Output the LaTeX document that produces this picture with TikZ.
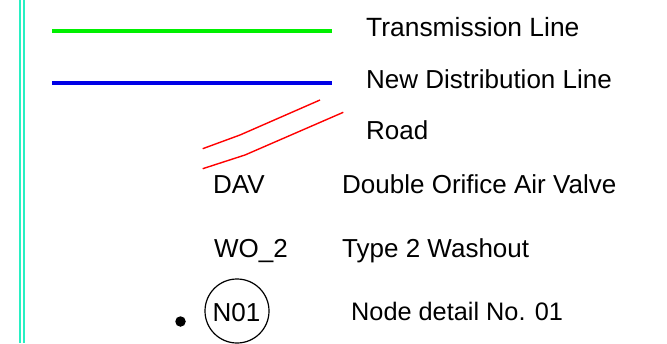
\documentclass[tikz,border=0pt]{standalone}
\usepackage{fontspec}
\setmainfont{Liberation Sans}
\begin{document}
\begin{tikzpicture}[x=1pt,y=-1pt,
  lbl/.style={anchor=base west,inner sep=0pt,font=\fontsize{26}{30}\selectfont},
  lblc/.style={anchor=base,inner sep=0pt,font=\fontsize{26}{30}\selectfont},
  border/.style={draw={rgb,255:red,40;green,240;blue,195},line width=1.7pt},
  legendline/.style={line width=3.5pt},
  road/.style={draw=red,line width=1.4pt,line join=round}]
\useasboundingbox (0,0) rectangle (667,343);
% left double border
\coordinate (b1t) at (20.2,0); \coordinate (b1b) at (20.2,343);
\coordinate (b2t) at (24.2,0); \coordinate (b2b) at (24.2,343);
\draw[border] (b1t) -- (b1b);
\draw[border] (b2t) -- (b2b);
% transmission line
\coordinate (g1) at (52,31); \coordinate (g2) at (332,31);
\draw[legendline,draw={rgb,255:red,0;green,240;blue,0}] (g1) -- (g2);
\node[lbl,font=\fontsize{26.4}{30}\selectfont] (tl) at (366,36) {Transmission Line};
% distribution line
\coordinate (d1) at (52,83); \coordinate (d2) at (332,83);
\draw[legendline,draw={rgb,255:red,0;green,0;blue,230}] (d1) -- (d2);
\node[lbl] (ndl) at (366,88) {New Distribution Line};
% road
\coordinate (r1a) at (202.7,148.7); \coordinate (r1b) at (240,135); \coordinate (r1c) at (320,100);
\coordinate (r2a) at (202.7,168.7); \coordinate (r2b) at (245,155); \coordinate (r2c) at (343.3,112.3);
\draw[road] (r1a) -- (r1b) -- (r1c);
\draw[road] (r2a) -- (r2b) -- (r2c);
\node[lbl] (rd) at (366,139) {Road};
% DAV
\node[lbl] (dav) at (213,193) {DAV};
\node[lbl] (davt) at (342,193) {Double Orifice Air Valve};
% WO_2
\node[lbl] (wo) at (214,257) {WO\_2};
\node[lbl] (wot) at (342,257) {Type 2 Washout};
% node detail
\node[circle,fill=black,minimum size=10.5pt,inner sep=0pt] (dot) at (180.5,321.5) {};
\node[circle,draw=black,line width=1.2pt,minimum size=64pt,inner sep=0pt] (n01) at (237,311) {};
\node[lblc] (n01t) at (236.5,321.5) {N01};
\node[lbl,font=\fontsize{25.3}{30}\selectfont] (ndt) at (351,320) {Node detail No. 01};
\end{tikzpicture}
\end{document}
